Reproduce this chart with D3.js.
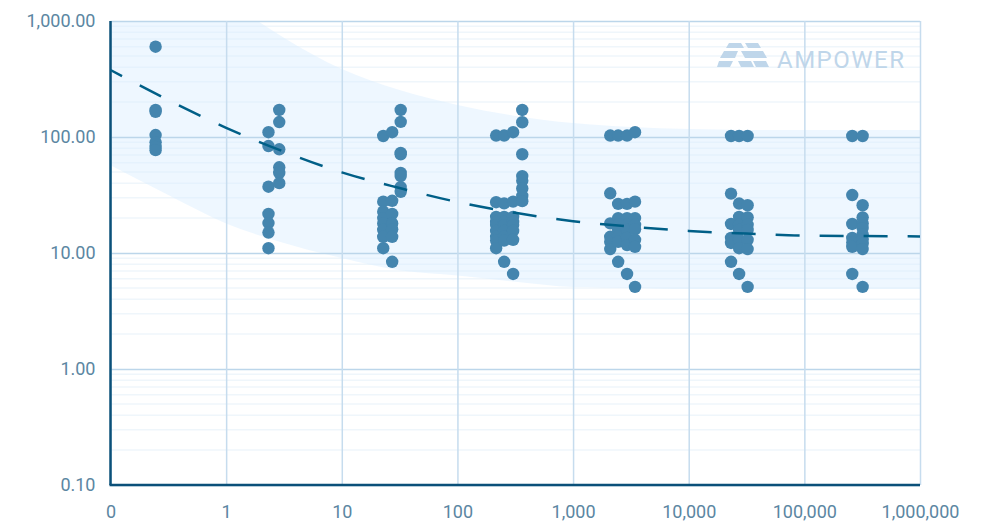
<!DOCTYPE html>
<html>
<head>
<meta charset="utf-8">
<script src="https://cdn.jsdelivr.net/npm/d3@7"></script>
<style>
  html, body { margin: 0; padding: 0; background: #fff; }
  svg { display: block; }
  text { font-family: Roboto, sans-serif; }
</style>
</head>
<body>
<svg id="chart"></svg>
<script>
const width = 982, height = 524;
const margin = { top: 21, right: 62, bottom: 39, left: 110.5 };

const xTicks = [0.1, 1, 10, 100, 1000, 10000, 100000, 1000000];
const yTicks = [0.1, 1, 10, 100, 1000];

// trend and band, read at every half decade
const curveX = [0.1, 0.316, 1, 3.16, 10, 31.6, 100, 316, 1000, 3160, 10000, 31600, 100000, 316000, 1000000];
const trendY = [378, 208, 120, 74.7, 49.6, 36.3, 27.5, 22.2, 18.8, 16.9, 15.5, 14.7, 14.1, 14.0, 13.9];
const bandHigh = [13500, 4100, 1560, 718, 385, 254, 189, 152, 132, 122, 117, 115, 115, 115, 115];
const bandLow = [57, 31.6, 18, 12.2, 9.05, 7.1, 6.4, 5.66, 5.1, 5.0, 4.9, 4.9, 4.9, 4.9, 4.9];

// measured points, one entry per x column
const columnX = [0.243, 2.3, 2.85, 22.6, 27, 32, 214, 251, 300, 360, 2075, 2430, 2900, 3400, 23000, 27000, 32000, 257000, 316000];
const columnY = [
  [600, 171, 165, 104, 90, 82, 77],
  [110, 83.6, 37.3, 21.7, 18.1, 15, 11],
  [171, 134.6, 78.3, 54.8, 49, 40],
  [102, 27.7, 22.7, 20, 18, 15.8, 13.8, 11],
  [110, 28.2, 21.7, 18, 16, 13.8, 8.4],
  [171, 135, 73, 71, 49, 46, 37, 33.7],
  [103, 27.4, 20.5, 18.5, 17.4, 15.5, 13.8, 12.8, 11],
  [103, 26.8, 20.5, 18.5, 17.4, 15.5, 13.8, 12.8, 8.4],
  [110, 27.7, 20.5, 18.5, 17.4, 15.5, 13, 6.6],
  [171, 134, 71, 46, 42, 36, 31, 28],
  [103, 32.7, 18, 13.8, 12.5, 10.8],
  [103, 26.5, 20, 17.5, 15.8, 13.8, 12.5, 8.4],
  [103, 26.5, 20, 17.5, 15.8, 13.5, 11.7, 6.6],
  [110, 27.7, 20, 17.5, 16, 13, 11.3, 5.1],
  [102, 32.5, 17.8, 13.5, 12.2, 8.4],
  [102, 26.7, 20.5, 17.5, 15.8, 13, 11, 6.6],
  [102, 25.8, 20.3, 17.5, 15.8, 13, 10.8, 5.1],
  [102, 31.6, 17.8, 13.5, 12.3, 11.3, 6.6],
  [102, 25.8, 20.3, 18, 16.4, 14.5, 13, 12, 10.8, 5.1]
];

const svg = d3.select("#chart").attr("width", width).attr("height", height);

const x = d3.scaleLog().domain([0.1, 1000000]).range([margin.left, width - margin.right]);
const y = d3.scaleLog().domain([0.1, 1000]).range([height - margin.bottom, margin.top]);

svg.append("clipPath").attr("id", "plotClip")
  .append("rect")
  .attr("x", margin.left).attr("y", margin.top)
  .attr("width", width - margin.right - margin.left)
  .attr("height", height - margin.bottom - margin.top);

// minor grid, 2..9 of every decade
let minorTicks = [];
yTicks.slice(0, -1).forEach(d => {
  for (let k = 2; k < 10; k++) minorTicks.push(d * k);
});

svg.append("g").selectAll("line").data(minorTicks).join("line")
  .attr("x1", margin.left).attr("x2", width - margin.right)
  .attr("y1", d => y(d)).attr("y2", d => y(d))
  .attr("stroke", "#eff6fb").attr("stroke-width", 1.5);

// confidence band
const band = d3.area()
  .x((d, i) => x(curveX[i]))
  .y0((d, i) => y(bandLow[i]))
  .y1((d, i) => y(bandHigh[i]))
  .curve(d3.curveMonotoneX);

svg.append("path")
  .attr("d", band(curveX))
  .attr("clip-path", "url(#plotClip)")
  .attr("fill", "#d9eefe")
  .attr("fill-opacity", 0.45);

// axes, the tick lines double as major grid
const yAxis = svg.append("g")
  .attr("transform", "translate(" + margin.left + ",0)")
  .call(d3.axisLeft(y).tickValues(yTicks).tickFormat(d3.format(",.2f"))
    .tickSize(-(width - margin.right - margin.left)).tickPadding(15));

const xAxis = svg.append("g")
  .attr("transform", "translate(0," + (height - margin.bottom) + ")")
  .call(d3.axisBottom(x).tickValues(xTicks).tickFormat(d => d < 1 ? "0" : d3.format(",")(d))
    .tickSize(-(height - margin.bottom - margin.top)).tickPadding(20));

yAxis.selectAll(".tick line").attr("stroke", "#bcd6ea").attr("stroke-width", 1.5);
xAxis.selectAll(".tick line").attr("stroke", "#c6dcee").attr("stroke-width", 1.5);
yAxis.select(".domain").attr("stroke", "none");
xAxis.select(".domain").attr("stroke", "none");

svg.selectAll(".tick text")
  .attr("fill", "#5b86a2")
  .attr("font-size", 18)
  .attr("font-family", "Roboto, sans-serif");

// dark axis lines on the left and bottom
svg.append("line")
  .attr("x1", margin.left).attr("x2", margin.left)
  .attr("y1", margin.top).attr("y2", height - margin.bottom)
  .attr("stroke", "#0b5079").attr("stroke-width", 2.5);
svg.append("line")
  .attr("x1", margin.left - 1).attr("x2", width - margin.right)
  .attr("y1", height - margin.bottom).attr("y2", height - margin.bottom)
  .attr("stroke", "#0b5079").attr("stroke-width", 2.5);

// logo
const logo = svg.append("g").attr("transform", "translate(717,43)").attr("fill", "#bfd6ea");
logo.selectAll("polygon")
  .data([
    "12,0 24,0 27,5 9,5", "28,0 41,0 44,5 31,5",
    "7,8 21,8 18,15 3,15", "24,8 46,8 50,15 28,15",
    "2,18 16,18 13,24 0,24", "21,18 34,18 37,24 24,24", "36,18 49,18 52,24 39,24"
  ])
  .join("polygon")
  .attr("points", d => d);
svg.append("text")
  .attr("x", 777).attr("y", 68)
  .attr("fill", "#bfd6ea")
  .attr("font-size", 24)
  .attr("letter-spacing", 1.5)
  .text("AMPOWER");

// points
let points = [];
columnX.forEach((cx, i) => {
  columnY[i].forEach(v => points.push({ x: cx, y: v }));
});

svg.append("g").selectAll("circle").data(points).join("circle")
  .attr("cx", d => x(d.x) + 0.5)
  .attr("cy", d => y(d.y))
  .attr("r", 6.2)
  .attr("fill", "#4485ae");

// trend line
const trend = d3.line()
  .x((d, i) => x(curveX[i]))
  .y((d, i) => y(trendY[i]))
  .curve(d3.curveMonotoneX);

svg.append("path")
  .attr("d", trend(curveX))
  .attr("fill", "none")
  .attr("stroke", "#005f87")
  .attr("stroke-width", 2.5)
  .attr("stroke-dasharray", "24 20")
  .attr("stroke-dashoffset", 11);
</script>
</body>
</html>
